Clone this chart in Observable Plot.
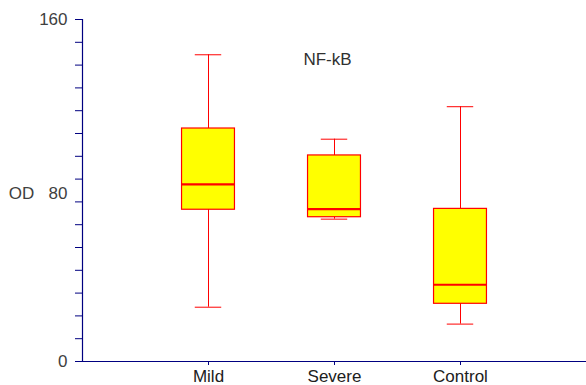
<!DOCTYPE html>
<html>
<head>
<meta charset="utf-8">
<script src="https://cdn.jsdelivr.net/npm/d3@7"></script>
<script src="https://cdn.jsdelivr.net/npm/@observablehq/plot@0.6"></script>
<style>
  html, body { margin: 0; padding: 0; background: #fff; }
  #chart svg { display: block; }
</style>
</head>
<body>
<div id="chart"></div>
<script>
const title = "NF-kB";
const yLabel = "OD";
const categories = ["Mild", "Severe", "Control"];
const whiskerLow = [25.4, 66.6, 17.5];
const q1 = [71.0, 67.5, 27.0];
const median = [82.9, 71.3, 35.9];
const q3 = [109.0, 96.4, 71.4];
const whiskerHigh = [143.5, 104.0, 119.2];
const yTickLabelsEnds = [0, 160];
const yTickLabelsMid = [80];
const yMinorTicks = [0, 10.667, 21.333, 32, 42.667, 53.333, 64, 74.667, 85.333, 96, 106.667, 117.333, 128, 138.667, 149.333, 160];

const data = categories.map((c, i) => ({
  cat: c, pos: i + 1,
  low: whiskerLow[i], q1: q1[i], med: median[i], q3: q3[i], high: whiskerHigh[i]
}));

const boxHalf = 0.21;
const capHalf = 0.105;
const axisColor = "#000080";
const red = "#ff0000";
const font = "Liberation Sans, Arial, sans-serif";

const chart = Plot.plot({
  width: 586,
  height: 385,
  marginLeft: 82,
  marginRight: 0,
  marginTop: 19,
  marginBottom: 24,
  style: { fontFamily: font, fontSize: "17px", background: "#fff" },
  x: { domain: [0, 4] },
  y: { domain: [0, 160] },
  marks: [
    // y axis minor ticks (no labels)
    Plot.axisY({ ticks: yMinorTicks, tickSize: 7, tickFormat: () => "", stroke: axisColor, label: null }),
    // y axis labels
    Plot.axisY({ ticks: yTickLabelsEnds, tickSize: 0, tickPadding: 15, fill: "#404040", label: null, fontSize: 17 }),
    Plot.axisY({ ticks: yTickLabelsMid, tickSize: 0, tickPadding: 15, dy: 3, fill: "#404040", label: null, fontSize: 17 }),
    // x axis ticks and labels
    Plot.axisX({ ticks: [1, 2, 3], tickSize: 4, tickPadding: 4, stroke: axisColor, fill: "#202020",
      tickFormat: d => categories[d - 1], label: null, fontSize: 17 }),
    Plot.ruleX([0], { stroke: axisColor, strokeWidth: 1.2 }),
    Plot.ruleY([0], { stroke: axisColor, strokeWidth: 1.2 }),
    // whiskers
    Plot.ruleX(data, { x: "pos", y1: "low", y2: "high", stroke: red, strokeWidth: 1 }),
    Plot.ruleY(data, { y: "high", x1: d => d.pos - capHalf, x2: d => d.pos + capHalf, stroke: red, strokeWidth: 1 }),
    Plot.ruleY(data, { y: "low", x1: d => d.pos - capHalf, x2: d => d.pos + capHalf, stroke: red, strokeWidth: 1 }),
    // boxes
    Plot.rect(data, { x1: d => d.pos - boxHalf, x2: d => d.pos + boxHalf, y1: "q1", y2: "q3",
      fill: "#ffff00", stroke: red, strokeWidth: 1.2 }),
    // medians
    Plot.ruleY(data, { y: "med", x1: d => d.pos - boxHalf, x2: d => d.pos + boxHalf, stroke: red, strokeWidth: 2.2 }),
    // y label
    Plot.text([yLabel], { frameAnchor: "left", dx: -61, dy: 3, text: d => d, fill: "#404040", fontSize: 17, textAnchor: "middle" }),
    // title
    Plot.text([title], { frameAnchor: "top", dx: -7, dy: 33, text: d => d, fill: "#303030", fontSize: 17, textAnchor: "middle" })
  ]
});
document.getElementById("chart").appendChild(chart);
</script>
</body>
</html>
